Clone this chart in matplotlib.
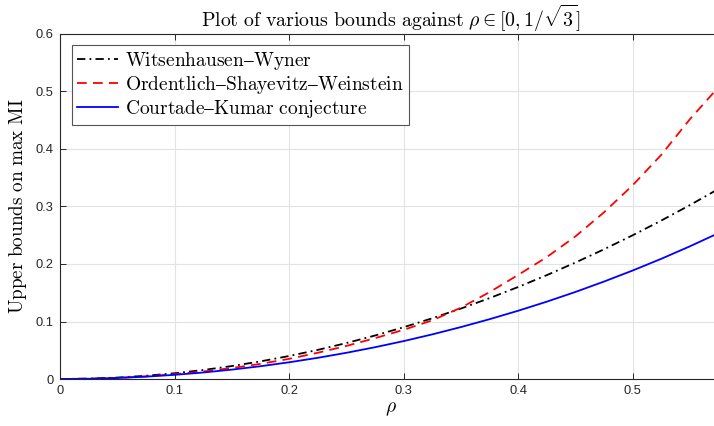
import numpy as np
import matplotlib
matplotlib.use("Agg")
import matplotlib.pyplot as plt

rho = [0.0, 0.025, 0.05, 0.075, 0.1, 0.125, 0.15, 0.175, 0.2, 0.225, 0.25,
       0.275, 0.3, 0.325, 0.35, 0.375, 0.4, 0.425, 0.45, 0.475, 0.5, 0.525,
       0.55, 0.57735]
witsenhausen_wyner = [0.0, 0.000625, 0.0025, 0.005625, 0.01, 0.015625, 0.0225,
                      0.030625, 0.04, 0.050625, 0.0625, 0.075625, 0.09, 0.105625,
                      0.1225, 0.140625, 0.16, 0.180625, 0.2025, 0.225625, 0.25,
                      0.275625, 0.3025, 0.3333]
ordentlich_sw = [0.0, 0.0005, 0.0019, 0.0046, 0.0084, 0.0131, 0.0191, 0.0263,
                 0.035, 0.0456, 0.0575, 0.071, 0.0855, 0.102, 0.124, 0.151,
                 0.181, 0.212, 0.248, 0.29, 0.337, 0.39, 0.452, 0.513]
courtade_kumar = [0.0, 0.00045, 0.0018, 0.00406, 0.00723, 0.0113, 0.0163,
                  0.0222, 0.02905, 0.03683, 0.04556, 0.05526, 0.0659, 0.0776,
                  0.0903, 0.104, 0.1187, 0.1345, 0.1514, 0.1695, 0.1887, 0.2091,
                  0.2308, 0.256]
series_labels = ["Witsenhausen–Wyner", "Ordentlich–Shayevitz–Weinstein",
                 "Courtade–Kumar conjecture"]
xticks = [0, 0.1, 0.2, 0.3, 0.4, 0.5]
yticks = [0, 0.1, 0.2, 0.3, 0.4, 0.5, 0.6]

plt.rcParams['mathtext.fontset'] = 'cm'
plt.rcParams['lines.scale_dashes'] = False


def tex(s):
    return r'$\mathrm{' + s.replace(' ', r'\ ') + '}$'


W, H = 714, 426
fig = plt.figure(figsize=(W / 100, H / 100), dpi=100)
left, right_px, top, bottom = 60, 721.3, 34, 379
ax = fig.add_axes([left / W, 1 - bottom / H, (right_px - left) / W, (bottom - top) / H])

spine_c = '#262626'
ax.plot(rho, witsenhausen_wyner, color='black', lw=1.3, dashes=(6, 3, 1.3, 3),
        label=tex(series_labels[0]))
ax.plot(rho, ordentlich_sw, color='red', lw=1.3, dashes=(7, 4.5),
        label=tex(series_labels[1]))
ax.plot(rho, courtade_kumar, color='blue', lw=1.3, label=tex(series_labels[2]))

ax.set_xlim(0, 1 / np.sqrt(3))
ax.set_ylim(0, 0.6)
ax.set_xticks(xticks)
ax.set_yticks(yticks)
ax.set_xticklabels([f"{t:g}" for t in xticks], family='Liberation Sans', fontsize=9.3, color=spine_c)
ax.set_yticklabels([f"{t:g}" for t in yticks], family='Liberation Sans', fontsize=9.3, color=spine_c)
ax.grid(True, color='#e3e3e3', lw=0.8)
ax.set_axisbelow(True)
ax.tick_params(direction='in', length=4, width=0.7, color=spine_c, top=True, right=True, pad=4.5)
for s in ax.spines.values():
    s.set_color(spine_c)
    s.set_linewidth(0.8)

ax.set_title(r'$\mathrm{Plot\ of\ various\ bounds\ against\ }\rho \in [0, 1/\sqrt{3}]$',
             fontsize=14.3, pad=5)
ax.set_xlabel(r'$\rho$', fontsize=14, labelpad=1)
ax.set_ylabel(tex('Upper bounds on max MI'), fontsize=13.8, labelpad=5)

leg = ax.legend(loc='upper left', bbox_to_anchor=(12 / 661.3, 1 - 11 / 345), fontsize=14,
                fancybox=False, framealpha=1, edgecolor='#555555', borderpad=0.27,
                handlelength=2.1, handletextpad=0.36, labelspacing=0.1, borderaxespad=0)
leg.get_frame().set_linewidth(0.8)

fig.savefig('out.png', dpi=100)
